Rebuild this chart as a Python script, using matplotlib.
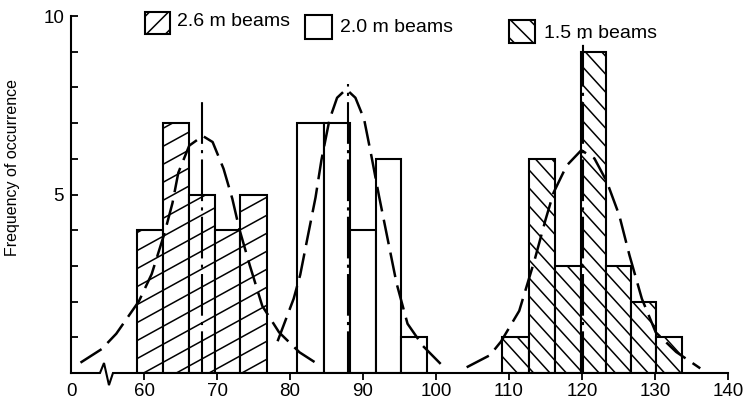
import matplotlib
matplotlib.use("Agg")
import matplotlib.pyplot as plt
from matplotlib.patches import Rectangle
from matplotlib.collections import LineCollection
from matplotlib.transforms import IdentityTransform
import numpy as np

plt.rcParams['font.family'] = ['Liberation Sans', 'DejaVu Sans']

# ---------------- data ----------------
series_labels = ["2.6 m beams", "2.0 m beams", "1.5 m beams"]

edges_26 = [59.0, 62.6, 66.2, 69.7, 73.2, 76.8]
counts_26 = [4, 7, 5, 4, 5]
edges_20 = [81.0, 84.7, 88.2, 91.8, 95.2, 98.7]
counts_20 = [7, 7, 4, 6, 1]
edges_15 = [109.1, 112.7, 116.3, 119.9, 123.3, 126.7, 130.1, 133.7]
counts_15 = [1, 6, 3, 9, 3, 2, 1]

means = [68.0, 88.0, 120.2]
mean_tops = [7.6, 8.1, 9.4]

curve_26_x = [51.3, 54.2, 56.2, 59.3, 61.05, 62.8, 63.9, 64.7, 66.2, 68.05,
              69.4, 70.9, 72.1, 73.05, 74.5, 76.2, 78.5, 81.3, 84.1]
curve_26_y = [0.29, 0.67, 1.10, 2.01, 2.77, 3.91, 4.76, 5.61, 6.37, 6.64,
              6.47, 5.72, 4.88, 4.04, 3.01, 1.88, 1.14, 0.58, 0.21]
curve_20_x = [78.3, 80.5, 81.4, 82.4, 83.5, 84.3, 85.4, 86.45, 87.7, 88.96,
              90.15, 91.15, 92.2, 93.4, 94.6, 96.1, 98.2, 101.0]
curve_20_y = [0.89, 2.08, 2.75, 3.79, 4.92, 5.96, 7.09, 7.71, 7.95, 7.71,
              7.11, 6.08, 4.95, 3.73, 2.51, 1.38, 0.76, 0.18]
curve_15_x = [104.2, 107.4, 108.9, 111.4, 113.5, 115.0, 116.1, 117.9, 119.9,
              121.7, 123.4, 125.1, 126.5, 128.2, 130.1, 132.9, 136.2]
curve_15_y = [0.16, 0.50, 0.88, 1.74, 3.16, 4.29, 5.05, 5.81, 6.24,
              6.01, 5.36, 4.42, 3.30, 2.08, 1.14, 0.59, 0.13]

x_ticks = [50, 60, 70, 80, 90, 100, 110, 120, 130, 140]
x_tick_labels = ["0", "60", "70", "80", "90", "100", "110", "120", "130", "140"]
y_ticks = [5, 10]
y_tick_labels = ["5", "10"]
y_minor_ticks = [1, 2, 3, 4, 6, 7, 8, 9]
y_label = "Frequency of occurrence"

# ---------------- figure ----------------
W, H = 746, 416
fig = plt.figure(figsize=(W / 100, H / 100), dpi=100)
fig.patch.set_facecolor("white")
ax = fig.add_axes([71 / W, 1 - 373 / H, (728 - 71) / W, (373 - 16) / H])
ax.set_xlim(50, 140)
ax.set_ylim(0, 10)
for s in ["top", "right", "bottom"]:
    ax.spines[s].set_visible(False)
ax.spines["left"].set_linewidth(1.5)


def hatch_patch(patch, slope, spacing, lw=1.0, anchor=(0.0, 0.0), on_fig=False, z=2):
    ax0, ay0 = anchor
    c0 = ay0 - slope * ax0
    segs = []
    for k in range(-140, 141):
        c = c0 + k * spacing
        segs.append([(-20, slope * -20 + c), (W + 20, slope * (W + 20) + c)])
    lc = LineCollection(segs, colors="black", linewidths=lw, transform=IdentityTransform(), zorder=z)
    if on_fig:
        fig.add_artist(lc)
    else:
        ax.add_collection(lc, autolim=False)
    lc.set_clip_box(None)
    lc.set_clip_path(patch.get_path(), patch.get_transform())
    return lc


def draw_hist(edges, counts, slope=None, spacing=18):
    lefts = edges[:-1]
    widths = np.diff(edges)
    bars = ax.bar(lefts, counts, width=widths, align="edge", facecolor="white",
                  edgecolor="black", linewidth=1.5, zorder=1)
    if slope is not None:
        for b in bars:
            hatch_patch(b, slope, spacing, lw=1.1, z=1.5)
    return bars


draw_hist(edges_26, counts_26, slope=0.55, spacing=18)
draw_hist(edges_20, counts_20, slope=None)
draw_hist(edges_15, counts_15, slope=-1.1, spacing=18)

# fitted distributions (dashed) and means (dash-dot)
for cx, cy in [(curve_26_x, curve_26_y), (curve_20_x, curve_20_y), (curve_15_x, curve_15_y)]:
    ax.plot(cx, cy, color="black", lw=1.8, dashes=(10, 3.4), dash_capstyle="butt",
            zorder=3, clip_on=False)
for m, t in zip(means, mean_tops):
    ax.plot([m, m], [0, t], color="black", lw=1.5, dashes=(20, 3, 1.5, 3), zorder=3,
            clip_on=False)

# x axis line with break
xf = ax.get_xaxis_transform()
ax.plot([50, 53.97, 54.52, 55.2, 55.75, 140], [0, 0, 0.028, -0.034, 0, 0],
        color="black", lw=1.5, transform=xf, clip_on=False, zorder=4,
        solid_joinstyle="miter")

ax.set_xticks(x_ticks, x_tick_labels)
ax.tick_params(axis="x", direction="out", length=5, width=1.3, labelsize=13.5, pad=2.5)
ax.xaxis.get_major_ticks()[0].tick1line.set_visible(False)

ax.set_yticks(y_ticks, y_tick_labels)
ax.set_yticks(y_minor_ticks, minor=True)
ax.tick_params(axis="y", which="both", direction="in", length=5, width=1.3,
               labelsize=13.5, pad=5)

fig.text(13 / W, 1 - 168 / H, y_label, rotation=90, ha="center", va="center", fontsize=11.5)

# legend (manual, three separate swatches)
legend_specs = [
    # box x0, y0(top px), w, h, text x, text y, slope
    (145, 12, 25, 22, 177, 22, 1.0),
    (305, 15, 27, 24, 340, 27, None),
    (509, 20, 26, 23, 544, 33, -1.0),
]
for (bx, by, bw, bh, tx, ty, sl), lab in zip(legend_specs, series_labels):
    r = Rectangle((bx / W, 1 - (by + bh) / H), bw / W, bh / H, transform=fig.transFigure,
                  facecolor="white", edgecolor="black", linewidth=1.5, zorder=5)
    fig.add_artist(r)
    if sl is not None:
        cxp, cyp = bx + bw / 2, H - (by + bh / 2)
        hatch_patch(r, sl, 19, lw=1.1, anchor=(cxp, cyp), on_fig=True, z=6)
    fig.text(tx / W, 1 - ty / H, lab, ha="left", va="center", fontsize=14)

fig.savefig("out.png", dpi=100)
